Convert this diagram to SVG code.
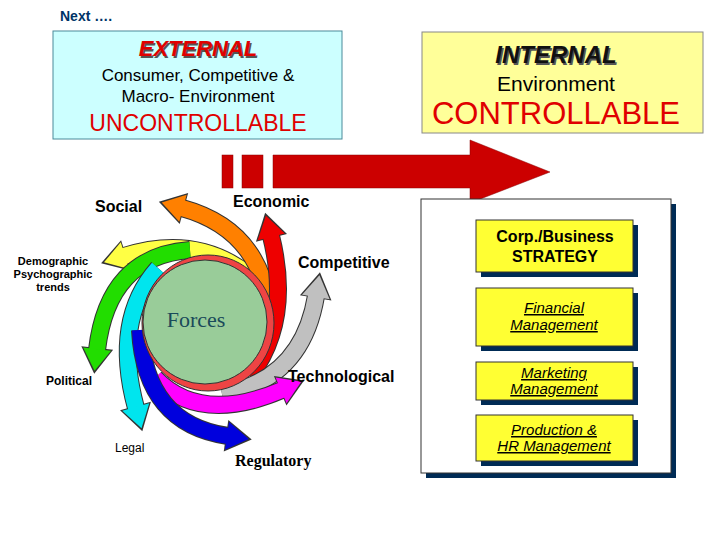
<svg xmlns="http://www.w3.org/2000/svg" width="720" height="540" viewBox="0 0 720 540">
<style>
.s{font-family:"Liberation Sans",Arial,sans-serif}
.b{font-weight:bold}
.box{fill:#ffff33;stroke:#333;stroke-width:1}
.sh{fill:#002b55}
.it{font-family:"Liberation Sans",Arial,sans-serif;font-style:italic;font-size:15px;text-decoration:underline;fill:#000}
.ol{fill:none;stroke:#333;stroke-width:18}
.ar{fill:none;stroke-width:16}
</style>
<defs>
<marker id="k" markerUnits="userSpaceOnUse" markerWidth="40" markerHeight="40" refX="2" refY="16" orient="auto" overflow="visible"><path d="M0,0 L0,32 L26,16 z" fill="#333"/></marker>
<marker id="m1" markerUnits="userSpaceOnUse" markerWidth="40" markerHeight="40" refX="1" refY="14" orient="auto" overflow="visible"><path d="M0,0 L0,28 L22,14 z" fill="#ff8000"/></marker>
<marker id="m2" markerUnits="userSpaceOnUse" markerWidth="40" markerHeight="40" refX="1" refY="14" orient="auto" overflow="visible"><path d="M0,0 L0,28 L22,14 z" fill="#ee0000"/></marker>
<marker id="m3" markerUnits="userSpaceOnUse" markerWidth="40" markerHeight="40" refX="1" refY="14" orient="auto" overflow="visible"><path d="M0,0 L0,28 L22,14 z" fill="#c0c0c0"/></marker>
<marker id="m4" markerUnits="userSpaceOnUse" markerWidth="40" markerHeight="40" refX="1" refY="14" orient="auto" overflow="visible"><path d="M0,0 L0,28 L22,14 z" fill="#ff00ff"/></marker>
<marker id="m5" markerUnits="userSpaceOnUse" markerWidth="40" markerHeight="40" refX="1" refY="14" orient="auto" overflow="visible"><path d="M0,0 L0,28 L22,14 z" fill="#0000dd"/></marker>
<marker id="m6" markerUnits="userSpaceOnUse" markerWidth="40" markerHeight="40" refX="1" refY="14" orient="auto" overflow="visible"><path d="M0,0 L0,28 L22,14 z" fill="#00e5ee"/></marker>
<marker id="m7" markerUnits="userSpaceOnUse" markerWidth="40" markerHeight="40" refX="1" refY="14" orient="auto" overflow="visible"><path d="M0,0 L0,28 L22,14 z" fill="#22dd00"/></marker>
<marker id="m8" markerUnits="userSpaceOnUse" markerWidth="40" markerHeight="40" refX="1" refY="14" orient="auto" overflow="visible"><path d="M0,0 L0,28 L22,14 z" fill="#ffff44"/></marker>
</defs>
<rect width="720" height="540" fill="#fff"/>
<text x="60" y="21" class="s b" font-size="14" fill="#003366">Next ….</text>

<g id="external">
<rect x="53" y="31" width="289" height="108" fill="#ccffff" stroke="#4a8a9a"/>
<text x="198" y="56" class="s b" font-size="22" font-style="italic" fill="#555" text-anchor="middle" transform="translate(1.5,1.5)">EXTERNAL</text>
<text x="198" y="56" class="s b" font-size="22" font-style="italic" fill="#e00000" text-anchor="middle">EXTERNAL</text>
<text x="198" y="81" class="s" font-size="17" text-anchor="middle">Consumer, Competitive &amp;</text>
<text x="198" y="102" class="s" font-size="17" text-anchor="middle">Macro- Environment</text>
<text x="198" y="131" class="s" font-size="23" fill="#e00000" text-anchor="middle">UNCONTROLLABLE</text>
</g>
<g id="internal">
<rect x="422" y="32" width="281" height="101" fill="#ffff99" stroke="#888"/>
<text x="556" y="63" class="s b" font-size="24" font-style="italic" fill="#555" text-anchor="middle" transform="translate(1.5,1.5)">INTERNAL</text>
<text x="556" y="63" class="s b" font-size="24" font-style="italic" fill="#111" text-anchor="middle">INTERNAL</text>
<text x="556" y="91" class="s" font-size="21" text-anchor="middle">Environment</text>
<text x="556" y="124" class="s" font-size="31" fill="#e00000" text-anchor="middle">CONTROLLABLE</text>
</g>
<g id="bigarrow" fill="#cc0000" stroke="#800" stroke-width="0.5">
<rect x="222" y="155" width="11" height="33"/>
<rect x="242" y="155" width="21" height="33"/>
<polygon points="273,155 470,155 470,140 550,172 470,203 470,188 273,188"/>
</g>

<g id="connectors">
<path class="ol" d="M255,280 Q200,232 124,256" marker-end="url(#k)"/>
<path class="ar" stroke="#ffff44" d="M255,280 Q200,232 124,256" marker-end="url(#m8)"/>
<path class="ol" d="M268,300 Q255,228 182,208" marker-end="url(#k)"/>
<path class="ar" stroke="#ff8000" d="M268,300 Q255,228 182,208" marker-end="url(#m1)"/>
<path class="ol" d="M250,376 Q292,320 271,236" marker-end="url(#k)"/>
<path class="ar" stroke="#ee0000" d="M250,376 Q292,320 271,236" marker-end="url(#m2)"/>
<path class="ol" d="M222,394 Q302,380 316,296" marker-end="url(#k)"/>
<path class="ar" stroke="#c0c0c0" d="M222,394 Q302,380 316,296" marker-end="url(#m3)"/>
<path class="ol" d="M190,250 Q108,256 97,350" marker-end="url(#k)"/>
<path class="ar" stroke="#22dd00" d="M190,250 Q108,256 97,350" marker-end="url(#m7)"/>
<path class="ol" d="M158,268 Q112,320 136,408" marker-end="url(#k)"/>
<path class="ar" stroke="#00e5ee" d="M158,268 Q112,320 136,408" marker-end="url(#m6)"/>
<path class="ol" d="M155,378 Q200,425 282,390" marker-end="url(#k)"/>
<path class="ar" stroke="#ff00ff" d="M155,378 Q200,425 282,390" marker-end="url(#m4)"/>
<path class="ol" d="M140,330 Q145,424 228,436" marker-end="url(#k)"/>
<path class="ar" stroke="#0000dd" d="M140,330 Q145,424 228,436" marker-end="url(#m5)"/>
<path d="M451,258 V445 M451,258 H476 M451,324 H476 M451,383 H476 M451,445 H476" fill="none" stroke="#333" stroke-width="1"/>
</g>
<g id="forces">
<ellipse cx="208" cy="323" rx="66" ry="68" fill="#ee4444" stroke="#333"/>
<circle cx="205" cy="322" r="62" fill="#99cc99" stroke="#333"/>
<text x="196" y="327" font-family="Liberation Serif,serif" font-size="22" fill="#1a4a5a" text-anchor="middle">Forces</text>
</g>
<g class="s b" font-size="16">
<text x="95" y="212">Social</text>
<text x="233" y="207">Economic</text>
<text x="298" y="268">Competitive</text>
<text x="288" y="382">Technological</text>
</g>
<g class="s b" font-size="11" text-anchor="middle">
<text x="53" y="265">Demographic</text>
<text x="53" y="278">Psychographic</text>
<text x="53" y="291">trends</text>
</g>
<text x="46" y="385" class="s b" font-size="12">Political</text>
<text x="115" y="452" class="s" font-size="12">Legal</text>
<text x="235" y="466" font-family="Liberation Serif,serif" font-weight="bold" font-size="16">Regulatory</text>

<g id="panel">
<rect x="426" y="204" width="250" height="274" class="sh"/>
<rect x="421" y="199" width="250" height="274" fill="#fff" stroke="#333"/>
</g>
<g id="corp">
<rect x="481" y="225" width="157" height="52" class="sh"/>
<rect x="476" y="220" width="157" height="52" class="box"/>
<text x="555" y="242" class="s b" font-size="16" text-anchor="middle">Corp./Business</text>
<text x="555" y="262" class="s b" font-size="16" text-anchor="middle">STRATEGY</text>
</g>
<g id="financial">
<rect x="481" y="293" width="157" height="58" class="sh"/>
<rect x="476" y="288" width="157" height="58" class="box"/>
<text x="554" y="313" class="it" text-anchor="middle">Financial</text>
<text x="554" y="330" class="it" text-anchor="middle">Management</text>
</g>
<g id="marketing">
<rect x="481" y="367" width="157" height="38" class="sh"/>
<rect x="476" y="362" width="157" height="38" class="box"/>
<text x="554" y="378" class="it" font-size="13" text-anchor="middle">Marketing</text>
<text x="554" y="394" class="it" font-size="13" text-anchor="middle">Management</text>
</g>
<g id="production">
<rect x="481" y="420" width="157" height="46" class="sh"/>
<rect x="476" y="415" width="157" height="46" class="box"/>
<text x="554" y="435" class="it" font-size="14" text-anchor="middle">Production &amp;</text>
<text x="554" y="451" class="it" font-size="14" text-anchor="middle">HR Management</text>
</g>
</svg>
